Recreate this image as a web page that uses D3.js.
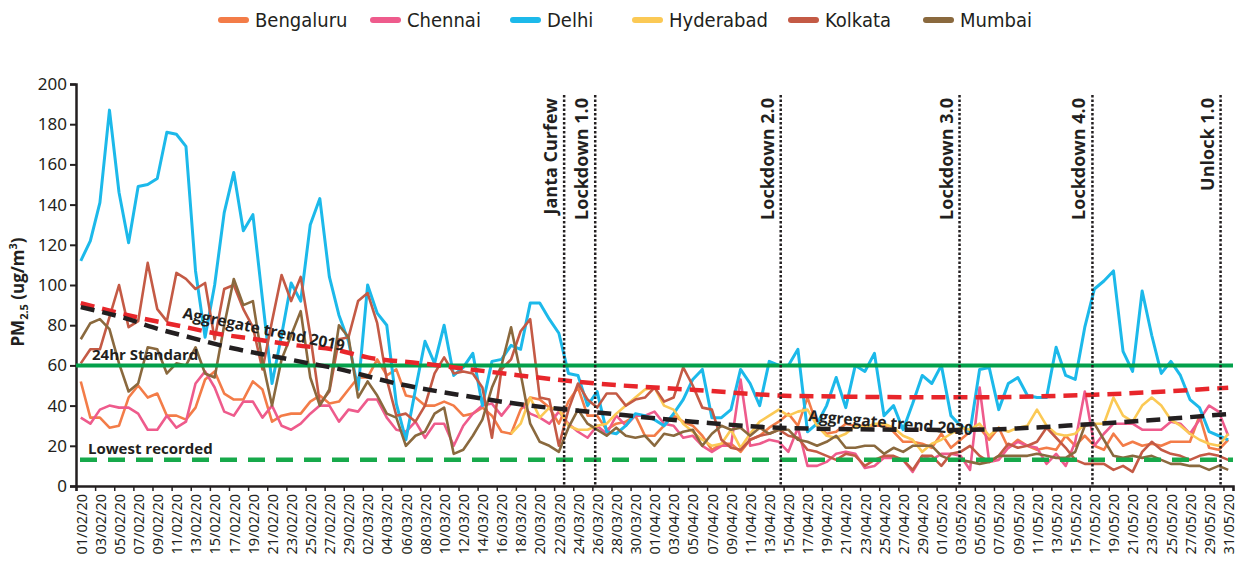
<!DOCTYPE html>
<html>
<head>
<meta charset="utf-8">
<script src="https://cdn.jsdelivr.net/npm/d3@7"></script>
<style>
  body { margin: 0; background: #fff; }
  text { font-family: "Open Sans", "Noto Sans", sans-serif; fill: #231f20; }
  .legend text { font-family: "DejaVu Sans Condensed", "DejaVu Sans", sans-serif; font-stretch: condensed; }
</style>
</head>
<body>
<div id="chart"></div>
<script>
var width = 1239, height = 562;

// 01/02/20 .. 31/05/20, one value per day
var dates = d3.timeDay.range(new Date(2020, 1, 1), new Date(2020, 5, 1));

var cities = ["Bengaluru", "Chennai", "Delhi", "Hyderabad", "Kolkata", "Mumbai"];
var colors = ["#f37c48", "#ee5b8c", "#1cb9ea", "#fbc955", "#c45a45", "#8a693e"];

var bengaluru = [52,34,34,29,30,44,50,44,46,35,35,33,39,53,57,46,43,43,52,48,32,35,36,36,42,45,41,42,48,54,
  54,63,55,58,45,44,40,40,42,40,35,36,39,35,27,26,38,44,43,39,31,42,49,35,35,28,31,32,35,25,
  25,30,35,32,30,25,18,21,21,17,23,25,29,32,36,30,44,30,26,27,31,30,30,30,30,27,22,22,21,19,
  26,19,23,27,29,23,29,19,23,20,18,19,18,25,20,25,20,18,26,20,22,20,21,20,22,22,22,35,19,18,23];
var chennai = [34,31,38,40,39,39,36,28,28,35,29,32,51,57,49,37,35,42,42,34,40,30,28,31,36,40,40,32,38,37,
  43,43,34,28,27,32,24,31,31,20,30,36,40,41,35,41,41,36,34,31,37,31,27,24,30,26,35,30,35,35,
  37,31,30,24,25,20,17,20,20,53,20,21,23,22,17,29,10,10,12,16,17,16,9,10,14,14,13,7,15,13,
  16,16,15,8,49,12,13,19,22,20,19,11,16,10,22,47,20,26,31,31,31,28,28,28,32,31,26,33,40,37,25];
var delhi = [112,122,141,187,146,121,149,150,153,176,175,169,107,74,100,136,156,127,135,93,51,75,101,92,130,143,104,85,72,48,
  100,86,80,41,23,48,72,61,80,55,59,66,40,62,63,70,68,91,91,83,76,56,55,40,47,27,26,30,36,35,
  33,30,36,43,53,58,34,34,38,58,51,40,62,60,60,68,27,31,40,54,39,60,57,66,35,40,28,41,55,51,
  60,35,30,27,58,59,38,51,54,45,44,44,69,55,53,79,98,102,107,67,57,97,75,56,62,55,43,39,27,25,23];
var hyderabad = [null,null,null,null,null,null,null,null,null,null,null,null,null,null,null,null,null,null,null,null,
  null,null,null,null,null,null,null,null,null,null,null,null,null,null,null,null,null,null,null,null,
  null,null,null,null,null,26,31,44,34,39,38,30,28,28,30,31,36,40,44,48,
  49,40,38,31,27,23,20,21,28,19,26,32,35,38,35,37,38,30,25,24,26,30,29,31,31,29,25,23,17,21,
  23,26,29,28,31,25,29,27,29,30,38,30,26,25,26,31,31,31,44,35,32,40,44,40,33,30,26,23,21,20,26];
var kolkata = [61,68,68,84,100,79,82,111,88,82,106,103,98,101,73,98,100,88,79,58,82,105,92,104,75,41,47,73,74,92,
  96,81,53,35,36,32,40,56,64,56,57,56,49,24,58,63,77,83,44,43,20,38,51,43,39,46,46,40,43,44,
  49,42,44,59,50,39,38,23,19,18,23,25,26,28,25,24,18,17,15,13,16,15,10,13,15,15,13,8,15,15,
  10,16,17,20,15,12,15,21,19,20,22,29,24,19,13,11,11,11,8,10,7,17,22,18,16,15,13,15,16,15,13];
var mumbai = [73,81,83,78,61,47,51,69,68,56,61,60,69,56,54,80,103,90,92,62,40,63,75,87,54,40,48,80,74,44,
  52,45,36,34,20,25,27,36,39,16,18,25,33,49,60,79,56,31,22,20,17,29,38,31,28,25,29,25,24,25,
  20,26,25,27,28,20,26,30,28,29,25,29,26,28,28,23,22,20,22,25,19,19,20,20,16,19,17,20,20,20,
  15,13,13,12,11,12,15,15,15,15,16,15,14,14,17,30,31,23,15,14,15,14,15,13,11,11,10,10,8,10,8];
var series = [bengaluru, chennai, delhi, hyderabad, kolkata, mumbai];

// aggregate trends (day index, value)
var trend2019Days = [0, 6.4, 10, 14, 18.3, 22.5, 26.7, 30, 35.6, 40.8, 45.9, 53.9, 64.2, 74.7, 92, 105.5, 120];
var trend2019 = [91, 83.4, 80, 76, 73, 70, 67.7, 64, 61, 58, 55, 51, 47.8, 44.8, 44.1, 45.3, 48.9];
var trend2020Days = [0, 4.7, 7.5, 11.7, 15.9, 20.4, 23.9, 26.7, 33, 40, 47, 54, 64, 74.7, 92, 105.5, 120];
var trend2020 = [89, 83.4, 79, 73.6, 68.5, 64.3, 61, 58.5, 51, 45, 40, 36.6, 32, 28.7, 27.9, 30.7, 35.8];

var standard24hr = 60, lowestRecorded = 13;

var eventLabels = ["Janta Curfew", "Lockdown 1.0", "Lockdown 2.0", "Lockdown 3.0", "Lockdown 4.0", "Unlock 1.0"];
var eventDays = [50.55, 53.8, 73.2, 91.9, 105.8, 119.2];

var yTicks = [0, 20, 40, 60, 80, 100, 120, 140, 160, 180, 200];

// legend swatch positions
var legendX = [218, 370, 510, 632, 788, 923];

// scales
var x = d3.scaleLinear().domain([-0.5, dates.length - 0.5]).range([76, 1233]);
var y = d3.scaleLinear().domain([0, 200]).range([486, 84]);

var svg = d3.select("#chart").append("svg")
    .attr("width", width)
    .attr("height", height);

// y axis
var yAxis = svg.append("g")
    .attr("transform", "translate(" + x.range()[0] + ",0)")
    .call(d3.axisLeft(y).tickValues(yTicks).tickSize(6).tickPadding(3));
yAxis.select(".domain").attr("stroke", "#231f20").attr("stroke-width", 2.5);
yAxis.selectAll(".tick line").attr("stroke", "#231f20").attr("stroke-width", 2);
yAxis.selectAll(".tick text").style("font-family", "'Noto Sans', sans-serif").style("font-size", "17px").attr("fill", "#231f20");

// x axis: ticks every two days between categories, labels on the days
var labelDays = d3.range(0, dates.length, 2);
var fmt = d3.timeFormat("%d/%m/%y");
var xAxis = svg.append("g")
    .attr("transform", "translate(0," + y(0) + ")")
    .call(d3.axisBottom(x).tickValues(labelDays.map(function (d) { return d - 0.5; }).concat([dates.length - 0.5]))
        .tickSize(5).tickFormat(""));
xAxis.select(".domain").attr("stroke", "#231f20").attr("stroke-width", 2.5);
xAxis.selectAll(".tick line").attr("stroke", "#231f20").attr("stroke-width", 1.5);

var xLabels = svg.append("g")
    .attr("transform", "translate(0," + y(0) + ")")
    .call(d3.axisBottom(x).tickValues(labelDays).tickSize(0)
        .tickFormat(function (d) { return fmt(dates[d]); }));
xLabels.select(".domain").remove();
xLabels.selectAll("text")
    .style("font-family", "'Noto Sans', sans-serif")
    .style("font-size", "14.5px")
    .attr("fill", "#231f20")
    .attr("text-anchor", "end")
    .attr("transform", "rotate(-90)")
    .attr("x", -8)
    .attr("y", 0)
    .attr("dy", "0.36em");

// y axis title
var title = svg.append("text")
    .attr("transform", "translate(24,292) rotate(-90)")
    .attr("text-anchor", "middle")
    .style("font-size", "17px")
    .style("font-weight", "bold");
title.append("tspan").text("PM");
title.append("tspan").text("2.5").attr("dy", 4).style("font-size", "11px");
title.append("tspan").text(" (ug/m").attr("dy", -4);
title.append("tspan").text("3").attr("dy", -7).style("font-size", "11px");
title.append("tspan").text(")").attr("dy", 7);

// city lines
var line = d3.line()
    .defined(function (d) { return d != null; })
    .x(function (d, i) { return x(i); })
    .y(function (d) { return y(d); });

svg.append("g").selectAll("path")
    .data(series)
    .enter().append("path")
    .attr("d", line)
    .attr("fill", "none")
    .attr("stroke", function (d, i) { return colors[i]; })
    .attr("stroke-width", function (d, i) { return i == 2 ? 3 : 2.6; })
    .attr("stroke-linejoin", "round");

// standard and lowest
svg.append("line")
    .attr("x1", x.range()[0]).attr("x2", x.range()[1])
    .attr("y1", y(standard24hr)).attr("y2", y(standard24hr))
    .attr("stroke", "#03a04b").attr("stroke-width", 4);
svg.append("line")
    .attr("x1", x.range()[0] + 4).attr("x2", x.range()[1])
    .attr("y1", y(lowestRecorded)).attr("y2", y(lowestRecorded))
    .attr("stroke", "#17a94b").attr("stroke-width", 4.5)
    .attr("stroke-dasharray", "17,11");

svg.append("text").attr("x", 92).attr("y", 360)
    .style("font-size", "15px").style("font-weight", "bold").text("24hr Standard");
svg.append("text").attr("x", 88).attr("y", 454)
    .style("font-size", "15px").style("font-weight", "bold").text("Lowest recorded");

// trend lines
var trendLine = d3.line()
    .x(function (d) { return x(d[0]); })
    .y(function (d) { return y(d[1]); })
    .curve(d3.curveMonotoneX);

svg.append("path")
    .attr("d", trendLine(d3.zip(trend2019Days, trend2019)))
    .attr("fill", "none").attr("stroke", "#e8262b").attr("stroke-width", 4.5)
    .attr("stroke-dasharray", "14,8");
svg.append("path")
    .attr("d", trendLine(d3.zip(trend2020Days, trend2020)))
    .attr("fill", "none").attr("stroke", "#231f20").attr("stroke-width", 4.5)
    .attr("stroke-dasharray", "14,8");

svg.append("text")
    .attr("transform", "translate(182,318) rotate(11.6)")
    .style("font-size", "15.5px").style("font-weight", "bold")
    .text("Aggregate trend 2019");
svg.append("text")
    .attr("transform", "translate(808,421) rotate(5)")
    .style("font-size", "15.5px").style("font-weight", "bold")
    .text("Aggregate trend 2020");

// event lines
var ev = svg.append("g").selectAll("g")
    .data(eventDays)
    .enter().append("g");
ev.append("line")
    .attr("x1", function (d) { return x(d); })
    .attr("x2", function (d) { return x(d); })
    .attr("y1", 95).attr("y2", y(0))
    .attr("stroke", "#231f20").attr("stroke-width", 2.5)
    .attr("stroke-dasharray", "2.5,2");
ev.append("text")
    .attr("transform", function (d) { return "translate(" + (x(d) - 7) + ",98) rotate(-90)"; })
    .attr("text-anchor", "end")
    .style("font-size", "18px").style("font-weight", "bold")
    .text(function (d, i) { return eventLabels[i]; });

// legend
var legend = svg.append("g").attr("class", "legend");
cities.forEach(function (c, i) {
    var lx = legendX[i];
    legend.append("line")
        .attr("x1", lx + 3).attr("x2", lx + 28)
        .attr("y1", 20).attr("y2", 20)
        .attr("stroke", colors[i]).attr("stroke-width", 6)
        .attr("stroke-linecap", "round");
    legend.append("text")
        .attr("x", lx + 37).attr("y", 27)
        .style("font-size", "20px")
        .text(c);
});
</script>
</body>
</html>
